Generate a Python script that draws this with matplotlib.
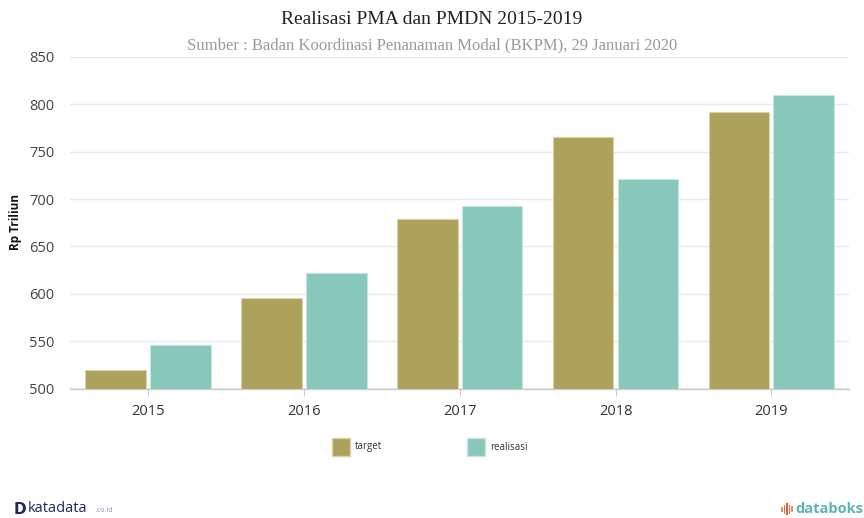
import numpy as np
import matplotlib
matplotlib.use('Agg')
import matplotlib.pyplot as plt
from matplotlib.patches import Rectangle

# data (Rp triliun)
years = ['2015', '2016', '2017', '2018', '2019']
target = [519.5, 595.4, 678.8, 765.0, 792.3]
realisasi = [545.4, 621.8, 692.8, 721.3, 809.6]
yticks = [500, 550, 600, 650, 700, 750, 800, 850]

c_target = '#ada25c'
c_real = '#88c8ba'

fig = plt.figure(figsize=(8.64, 5.18), dpi=100)
ax = fig.add_axes([0.081, 0.250, 0.902, 0.640])

x = np.arange(len(years))
w = 0.39
off = 0.208
ax.bar(x - off, target, w, bottom=0, color=c_target, edgecolor='#d8d2a8',
       linewidth=0.8, label='target', zorder=3)
ax.bar(x + off, realisasi, w, bottom=0, color=c_real, edgecolor='#c4e6de',
       linewidth=0.8, label='realisasi', zorder=3)

ax.set_xlim(-0.5, len(years) - 0.5)
ax.set_ylim(500, 850)
ax.set_yticks(yticks)
ax.set_yticklabels([str(v) for v in yticks], fontsize=10.5, color='#444444',
                   family='Open Sans')
ax.set_xticks(x)
ax.set_xticklabels(years, fontsize=10.5, color='#333333', family='Open Sans')
ax.tick_params(axis='y', length=0, pad=11)
ax.tick_params(axis='x', length=5, color='#cccccc', pad=6)

ax.grid(axis='y', color='#e8e8e8', linewidth=1, zorder=0)
for s in ['top', 'right', 'left']:
    ax.spines[s].set_visible(False)
ax.spines['bottom'].set_color('#cccccc')
ax.spines['bottom'].set_linewidth(1)

ax.set_ylabel('Rp Triliun', fontsize=8.5, fontweight='bold', family='Open Sans',
              color='#111111')
ax.yaxis.set_label_coords(-0.062, 0.503)

fig.text(0.5, 0.963, 'Realisasi PMA dan PMDN 2015-2019', ha='center', va='center',
         fontsize=14, family='Liberation Serif', color='#222222')
fig.text(0.5, 0.913, 'Sumber : Badan Koordinasi Penanaman Modal (BKPM), 29 Januari 2020',
         ha='center', va='center', fontsize=12, family='Liberation Serif',
         color='#999999')

# legend drawn by hand below the axes
fig.patches.append(Rectangle((332 / 864, 1 - 456 / 518), 18 / 864, 18 / 518,
                   transform=fig.transFigure, facecolor=c_target, edgecolor='#d8d2a8'))
fig.text(355 / 864, 1 - 447 / 518, 'target', fontsize=7, va='center',
         family='Open Sans', color='#333333')
fig.patches.append(Rectangle((467 / 864, 1 - 456 / 518), 18 / 864, 18 / 518,
                   transform=fig.transFigure, facecolor=c_real, edgecolor='#c4e6de'))
fig.text(490 / 864, 1 - 447 / 518, 'realisasi', fontsize=7, va='center',
         family='Open Sans', color='#333333')

# logos as text
fig.text(14 / 864, 1 - 509 / 518, 'D', fontsize=11, fontweight='bold',
         color='#1d2a5a', family='DejaVu Sans', va='center')
fig.text(28 / 864, 1 - 509 / 518, 'katadata', fontsize=10.5, color='#1d2a5a',
         family='Open Sans', va='center')
fig.text(95 / 864, 1 - 511 / 518, '.co.id', fontsize=5, color='#8a93ad',
         family='Open Sans', va='center')
for i, (h, col) in enumerate(zip([5, 9, 12, 9, 6], ['#f08a5d', '#e8734a', '#e05a4a',
                                                     '#e8734a', '#f08a5d'])):
    fig.patches.append(Rectangle(((781 + i * 2.6) / 864, (1 - 509 / 518) - h / 2 / 518),
                       1.5 / 864, h / 518, transform=fig.transFigure,
                       facecolor=col, edgecolor='none'))
fig.text(795 / 864, 1 - 509 / 518, 'databoks', fontsize=10.5, fontweight='bold',
         color='#5fb3b3', family='Open Sans', va='center')

fig.savefig('out.png', dpi=100)
